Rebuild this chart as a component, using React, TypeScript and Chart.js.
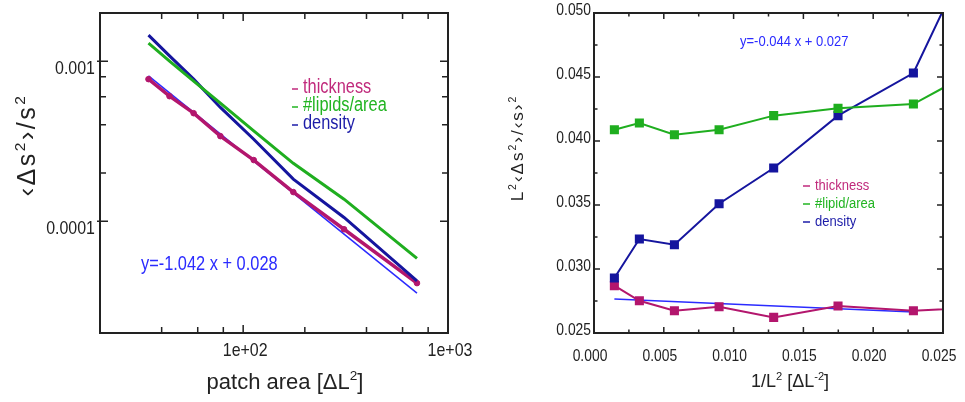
import { useEffect, useRef } from "react";
import { Chart, registerables } from "chart.js";

Chart.register(...registerables);

// ---------- Left panel: variance vs patch area (log-log) ----------
const patchArea = [34.5, 43.7, 57.3, 77.4, 112.6, 175.7, 310.8, 705.6];
const thicknessVar = [7.72e-4, 6.04e-4, 4.73e-4, 3.4e-4, 2.41e-4, 1.52e-4, 8.9e-5, 4.1e-5];
const lipidsVar = [1.296e-3, 1.0e-3, 7.51e-4, 5.46e-4, 3.67e-4, 2.3e-4, 1.372e-4, 5.85e-5];
const densityVar = [1.454e-3, 1.079e-3, 7.72e-4, 5.14e-4, 3.25e-4, 1.83e-4, 1.055e-4, 4.24e-5];
const fitAreaEnds = [34.5, 705.6];
const fitVarEnds = [8.09e-4, 3.55e-5];

const leftXTicks = [40, 60, 80, 100, 200, 400, 600, 800, 1000];
const leftXLabelValues = [100, 1000];
const leftXLabelTexts = ["1e+02", "1e+03"];
const leftYTicks = [1e-4, 2e-4, 4e-4, 6e-4, 8e-4, 1e-3];
const leftYLabelValues = [1e-4, 1e-3];
const leftYLabelTexts = ["0.0001", "0.001"];
const leftSeriesNames = ["thickness", "#lipids/area", "density"];
const leftFitText = "y=-1.042 x + 0.028";

// ---------- Right panel: normalised variance vs 1/L^2 ----------
const invArea = [0.00146, 0.00325, 0.00576, 0.00896, 0.01287, 0.01748, 0.02288, 0.029];
const thicknessNorm = [0.0287, 0.02752, 0.02674, 0.02705, 0.02622, 0.02711, 0.02674, 0.0271];
const lipidsNorm = [0.04088, 0.04141, 0.04049, 0.04088, 0.04198, 0.04255, 0.04289, 0.0465];
const densityNorm = [0.0293, 0.03234, 0.0319, 0.0351, 0.03789, 0.04198, 0.04531, 0.0594];
const fitInvEnds = [0.00146, 0.02288];
const fitNormEnds = [0.02766, 0.02664];

const rightXTicks = [0, 0.0025, 0.005, 0.0075, 0.01, 0.0125, 0.015, 0.0175, 0.02, 0.0225, 0.025];
const rightXLabelValues = [0, 0.005, 0.01, 0.015, 0.02, 0.025];
const rightXLabelTexts = ["0.000", "0.005", "0.010", "0.015", "0.020", "0.025"];
const rightYTicks = [0.025, 0.0275, 0.03, 0.0325, 0.035, 0.0375, 0.04, 0.0425, 0.045, 0.0475, 0.05];
const rightYLabelValues = [0.025, 0.03, 0.035, 0.04, 0.045, 0.05];
const rightYLabelTexts = ["0.025", "0.030", "0.035", "0.040", "0.045", "0.050"];
const rightSeriesNames = ["thickness", "#lipid/area", "density"];
const rightFitText = "y=-0.044 x + 0.027";

// ---------- styling ----------
const MAGENTA = "#b3166d";
const GREEN = "#1fae1f";
const NAVY = "#15159e";
const FITBLUE = "#2b2bff";
const LEGEND_COLORS = ["#c02a7c", "#22b422", "#1c1ca8"];
const FONT = '"Liberation Sans", Arial, sans-serif';
const AXIS = "#222";
const NARROW_X = 0.84;

type Part = { t: string; sup?: boolean };
type TextItem = {
  parts: Part[];
  x: number;
  y: number;
  size: number;
  color: string;
  align?: "left" | "center" | "right";
  rotate?: boolean;
  spacing?: number;
  sx?: number;
};
type Dash = { x1: number; x2: number; y: number; color: string };

function drawRich(ctx: CanvasRenderingContext2D, it: TextItem) {
  ctx.save();
  ctx.translate(it.x, it.y);
  if (it.rotate) ctx.rotate(-Math.PI / 2);
  ctx.scale(it.sx || 1, 1);
  ctx.fillStyle = it.color;
  ctx.textBaseline = "alphabetic";
  ctx.textAlign = "left";
  (ctx as any).letterSpacing = (it.spacing || 0) + "px";
  const supSize = it.size * 0.62;
  const fontFor = (p: Part) => `${p.sup ? supSize : it.size}px ${FONT}`;
  let total = 0;
  const ws = it.parts.map((p) => {
    ctx.font = fontFor(p);
    const w = ctx.measureText(p.t).width;
    total += w;
    return w;
  });
  let cx = it.align === "left" ? 0 : it.align === "right" ? -total : -total / 2;
  const base = it.size * 0.36;
  it.parts.forEach((p, i) => {
    ctx.font = fontFor(p);
    ctx.fillText(p.t, cx, p.sup ? base - it.size * 0.4 : base);
    cx += ws[i];
  });
  ctx.restore();
}

function textPlugin(items: TextItem[], dashes: Dash[]) {
  return {
    id: "overlayText",
    afterDraw(chart: any) {
      const ctx: CanvasRenderingContext2D = chart.ctx;
      ctx.save();
      dashes.forEach((d) => {
        ctx.strokeStyle = d.color;
        ctx.lineWidth = 1.5;
        ctx.beginPath();
        ctx.moveTo(d.x1, d.y);
        ctx.lineTo(d.x2, d.y);
        ctx.stroke();
      });
      ctx.restore();
      items.forEach((it) => drawRich(ctx, it));
    },
  };
}

type FrameCfg = {
  xMajor: number[];
  yMajor: number[];
  xTexts: string[];
  yTexts: string[];
  majorLen: number;
  minorLen: number;
  majorOut: number;
  lineWidth: number;
  tickWidth: number;
  fontSize: number;
  xLabelY: number;
  xLabelShift: number;
  yLabelGap: number;
  yLabelShift: number;
};

function framePlugin(cfg: FrameCfg) {
  return {
    id: "frame",
    afterDatasetsDraw(chart: any) {
      const { ctx, chartArea: a, scales } = chart;
      ctx.save();
      ctx.strokeStyle = AXIS;
      ctx.lineWidth = cfg.tickWidth;
      ctx.beginPath();
      const xs = scales.x;
      xs.ticks.forEach((t: any) => {
        const p = xs.getPixelForValue(t.value);
        if (p < a.left + 1 || p > a.right - 1) return;
        const major = cfg.xMajor.includes(t.value);
        const len = major ? cfg.majorLen : cfg.minorLen;
        ctx.moveTo(p, a.bottom);
        ctx.lineTo(p, a.bottom - len);
        ctx.moveTo(p, a.top);
        ctx.lineTo(p, a.top + len);
      });
      const ys = scales.y;
      ys.ticks.forEach((t: any) => {
        const p = ys.getPixelForValue(t.value);
        if (p < a.top + 1 || p > a.bottom - 1) return;
        const major = cfg.yMajor.includes(t.value);
        const len = major ? cfg.majorLen : cfg.minorLen;
        ctx.moveTo(a.left - (major ? cfg.majorOut : 0), p);
        ctx.lineTo(a.left + len, p);
        ctx.moveTo(a.right, p);
        ctx.lineTo(a.right - len, p);
      });
      ctx.stroke();
      ctx.lineWidth = cfg.lineWidth;
      ctx.strokeRect(a.left, a.top, a.right - a.left, a.bottom - a.top);
      ctx.restore();
      // tick labels, positioned by the library's scales
      cfg.xMajor.forEach((v, i) => {
        drawRich(ctx, {
          parts: [{ t: cfg.xTexts[i] }],
          x: xs.getPixelForValue(v) + cfg.xLabelShift,
          y: cfg.xLabelY,
          size: cfg.fontSize,
          color: AXIS,
          sx: NARROW_X,
        });
      });
      cfg.yMajor.forEach((v, i) => {
        drawRich(ctx, {
          parts: [{ t: cfg.yTexts[i] }],
          x: a.left - cfg.yLabelGap,
          y: ys.getPixelForValue(v) + cfg.yLabelShift,
          size: cfg.fontSize,
          color: AXIS,
          align: "right",
          sx: NARROW_X,
        });
      });
    },
  };
}

function pts(xs: number[], ys: number[]) {
  return xs.map((x, i) => ({ x, y: ys[i] }));
}

function hiddenAxis(extra: any) {
  return {
    grid: { display: false, drawTicks: false },
    border: { display: false },
    ticks: { display: false },
    ...extra,
  };
}

function leftConfig(): any {
  const items: TextItem[] = [
    ...leftSeriesNames.map((n, i) => ({
      parts: [{ t: n }],
      x: 303,
      y: 86 + i * 18,
      size: 19.5,
      color: LEGEND_COLORS[i],
      align: "left" as const,
      sx: NARROW_X,
    })),
    { parts: [{ t: leftFitText }], x: 141, y: 263, size: 19.5, color: FITBLUE, align: "left", sx: NARROW_X },
    {
      parts: [{ t: "patch area [ΔL" }, { t: "2", sup: true }, { t: "]" }],
      x: 285,
      y: 381,
      size: 22,
      color: AXIS,
    },
    {
      parts: [{ t: "‹Δs" }, { t: "2", sup: true }, { t: "›/s" }, { t: "2", sup: true }],
      x: 26,
      y: 145,
      size: 25,
      color: AXIS,
      rotate: true,
      spacing: 2.5,
    },
  ];
  const dashes: Dash[] = leftSeriesNames.map((_, i) => ({ x1: 292, x2: 298, y: 89 + i * 18, color: LEGEND_COLORS[i] }));
  return {
    type: "line",
    data: {
      datasets: [
        { data: pts(patchArea, lipidsVar), borderColor: GREEN, borderWidth: 3, pointRadius: 0 },
        { data: pts(patchArea, densityVar), borderColor: NAVY, borderWidth: 3, pointRadius: 0 },
        {
          data: pts(patchArea, thicknessVar),
          borderColor: MAGENTA,
          backgroundColor: MAGENTA,
          borderWidth: 3.5,
          pointRadius: 2.8,
          pointBorderWidth: 1,
          pointStyle: "circle",
        },
        { data: pts(fitAreaEnds, fitVarEnds), borderColor: FITBLUE, borderWidth: 1.5, pointRadius: 0 },
      ],
    },
    options: {
      responsive: false,
      animation: false,
      devicePixelRatio: 1,
      layout: { padding: { top: 13, right: 32, left: 0, bottom: 0 } },
      plugins: { legend: { display: false }, tooltip: { enabled: false } },
      scales: {
        x: hiddenAxis({
          type: "logarithmic",
          min: 20,
          max: 1000,
          afterBuildTicks: (s: any) => {
            s.ticks = leftXTicks.map((v) => ({ value: v }));
          },
          afterFit: (s: any) => {
            s.height = 69;
          },
        }),
        y: hiddenAxis({
          type: "logarithmic",
          min: 2e-5,
          max: 2e-3,
          afterBuildTicks: (s: any) => {
            s.ticks = leftYTicks.map((v) => ({ value: v }));
          },
          afterFit: (s: any) => {
            s.width = 100;
          },
        }),
      },
    },
    plugins: [
      framePlugin({
        xMajor: leftXLabelValues,
        yMajor: leftYLabelValues,
        xTexts: leftXLabelTexts,
        yTexts: leftYLabelTexts,
        majorLen: 8,
        minorLen: 6,
        majorOut: 3,
        lineWidth: 2,
        tickWidth: 1.5,
        fontSize: 19,
        xLabelY: 349,
        xLabelShift: 2,
        yLabelGap: 5,
        yLabelShift: 6,
      }),
      textPlugin(items, dashes),
    ],
  };
}

function rightConfig(): any {
  const items: TextItem[] = [
    ...rightSeriesNames.map((n, i) => ({
      parts: [{ t: n }],
      x: 335,
      y: 184 + i * 18,
      size: 15.5,
      color: LEGEND_COLORS[i],
      align: "left" as const,
      sx: NARROW_X,
    })),
    { parts: [{ t: rightFitText }], x: 260, y: 40, size: 15.5, color: FITBLUE, align: "left", sx: NARROW_X },
    {
      parts: [{ t: "1/L" }, { t: "2", sup: true }, { t: " [ΔL" }, { t: "-2", sup: true }, { t: "]" }],
      x: 310,
      y: 381,
      size: 18,
      color: AXIS,
    },
    {
      parts: [
        { t: "L" },
        { t: "2", sup: true },
        { t: "‹Δs" },
        { t: "2", sup: true },
        { t: "›/‹s›" },
        { t: "2", sup: true },
      ],
      x: 37,
      y: 148,
      size: 17,
      color: AXIS,
      rotate: true,
      spacing: 2,
    },
  ];
  const dashes: Dash[] = rightSeriesNames.map((_, i) => ({ x1: 323, x2: 330, y: 186 + i * 18, color: LEGEND_COLORS[i] }));
  return {
    type: "line",
    data: {
      datasets: [
        {
          data: pts(invArea, lipidsNorm),
          borderColor: GREEN,
          backgroundColor: GREEN,
          borderWidth: 2,
          pointRadius: 5,
          pointStyle: "rect",
        },
        {
          data: pts(invArea, densityNorm),
          borderColor: NAVY,
          backgroundColor: NAVY,
          borderWidth: 2,
          pointRadius: 5,
          pointStyle: "rect",
        },
        {
          data: pts(invArea, thicknessNorm),
          borderColor: MAGENTA,
          backgroundColor: MAGENTA,
          borderWidth: 2,
          pointRadius: 5,
          pointStyle: "rect",
        },
        { data: pts(fitInvEnds, fitNormEnds), borderColor: FITBLUE, borderWidth: 1.5, pointRadius: 0 },
      ],
    },
    options: {
      responsive: false,
      animation: false,
      devicePixelRatio: 1,
      layout: { padding: { top: 13, right: 22, left: 0, bottom: 0 } },
      plugins: { legend: { display: false }, tooltip: { enabled: false } },
      scales: {
        x: hiddenAxis({
          type: "linear",
          min: 0,
          max: 0.025,
          afterBuildTicks: (s: any) => {
            s.ticks = rightXTicks.map((v) => ({ value: v }));
          },
          afterFit: (s: any) => {
            s.height = 69;
          },
        }),
        y: hiddenAxis({
          type: "linear",
          min: 0.025,
          max: 0.05,
          afterBuildTicks: (s: any) => {
            s.ticks = rightYTicks.map((v) => ({ value: v }));
          },
          afterFit: (s: any) => {
            s.width = 114;
          },
        }),
      },
    },
    plugins: [
      framePlugin({
        xMajor: rightXLabelValues,
        yMajor: rightYLabelValues,
        xTexts: rightXLabelTexts,
        yTexts: rightYLabelTexts,
        majorLen: 6,
        minorLen: 3.5,
        majorOut: 0,
        lineWidth: 2,
        tickWidth: 1.5,
        fontSize: 16.5,
        xLabelY: 355,
        xLabelShift: -4,
        yLabelGap: 3,
        yLabelShift: -4,
      }),
      textPlugin(items, dashes),
    ],
  };
}

export default function App() {
  const leftRef = useRef<HTMLCanvasElement>(null);
  const rightRef = useRef<HTMLCanvasElement>(null);
  useEffect(() => {
    const c1 = new Chart(leftRef.current as HTMLCanvasElement, leftConfig());
    const c2 = new Chart(rightRef.current as HTMLCanvasElement, rightConfig());
    return () => {
      c1.destroy();
      c2.destroy();
    };
  }, []);
  return (
    <div style={{ position: "fixed", left: 0, top: 0, width: 965, height: 402, background: "#fff" }}>
      <canvas ref={leftRef} width={480} height={402} style={{ position: "absolute", left: 0, top: 0 }} />
      <canvas ref={rightRef} width={485} height={402} style={{ position: "absolute", left: 480, top: 0 }} />
    </div>
  );
}
